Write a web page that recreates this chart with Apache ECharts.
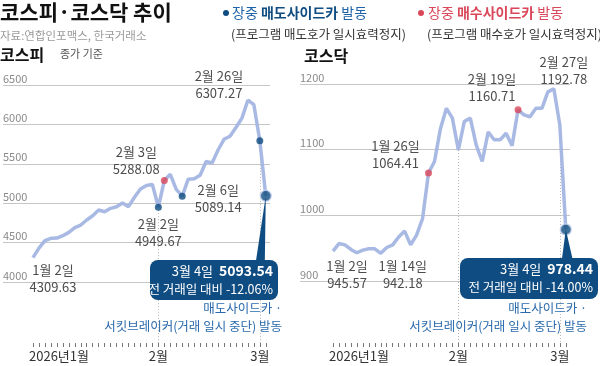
<!DOCTYPE html>
<html><head><meta charset="utf-8">
<script src="https://cdn.jsdelivr.net/npm/echarts@6/dist/echarts.min.js"></script>
<style>html,body{margin:0;padding:0;background:#fff}#c{width:600px;height:366px}</style>
</head><body><div id="c"></div>
<script>
// ---- data ----
const dates = ['01-02','01-05','01-06','01-07','01-08','01-09','01-12','01-13','01-14','01-15','01-16','01-19','01-20','01-21','01-22','01-23','01-26','01-27','01-28','01-29','01-30',
  '02-02','02-03','02-04','02-05','02-06','02-09','02-10','02-11','02-12','02-13','02-19','02-20','02-23','02-24','02-25','02-26','02-27','03-03','03-04'];
const kospi = [4309.63,4430,4525,4554,4558,4588,4630,4690,4723,4787,4841,4914,4892,4935,4955,5003,4956,5075,5180,5225,5238,
  4949.67,5288.08,5367,5175,5089.14,5305,5310,5355,5530,5510,5675,5811,5850,5960,6080,6307.27,6250,5792,5093.54];
const kosdaq = [945.57,957,955,948,943,947,949,949,942.18,951,955,967,976,955,970,995,1064.41,1082,1132,1163,1148,
  1099.5,1143,1148,1107,1082,1127,1115,1115,1125,1106,1160.71,1153,1150,1163,1163,1188,1192.78,1137.7,978.44];
const tickLabelIdx = [0,21,38];
const tickLabelText = ['2026년1월','2월','3월'];
const monthStartIdx = [21,38];
const kospiSell = [21,25,38], kospiBuy = [22], kospiBreaker = [39];
const kosdaqSell = [], kosdaqBuy = [16,31], kosdaqBreaker = [39];
const kospiTicks = {min:4000, max:6500, step:500};
const kosdaqTicks = {min:900, max:1200, step:100};
const kospiNotes = [[0,'1월 2일','4309.63'],[21,'2월 2일','4949.67'],[22,'2월 3일','5288.08'],[25,'2월 6일','5089.14'],[36,'2월 26일','6307.27']];
const kosdaqNotes = [[0,'1월 2일','945.57'],[8,'1월 14일','942.18'],[16,'1월 26일','1064.41'],[31,'2월 19일','1160.71'],[37,'2월 27일','1192.78']];
const kospiBox = ['3월 4일','5093.54','전 거래일 대비 -12.06%'];
const kosdaqBox = ['3월 4일','978.44','전 거래일 대비 -14.00%'];

// ---- layout ----
const F = "'Noto Sans CJK KR', 'Noto Sans', sans-serif";
const NAVY = '#0f4c81', RED = '#d9475a', LINE = '#a3b5e3';
const gridH = 197, lineGridH = 258;
const kospiLo = kospiTicks.max - (kospiTicks.max-kospiTicks.min)*lineGridH/gridH;
const kosdaqLo = kosdaqTicks.max - (kosdaqTicks.max-kosdaqTicks.min)*(lineGridH+1)/gridH;
const chart = echarts.init(document.getElementById('c'), null, {renderer:'canvas'});

function yGridAxis(g, t){
  return {gridIndex:g, type:'value', min:t.min, max:t.max, interval:t.step,
    axisLine:{show:false}, axisTick:{show:false},
    splitLine:{lineStyle:{color:'#c6c6c6', width:1}},
    axisLabel:{inside:true, margin:0, verticalAlign:'bottom', align:'left', color:'#8a8a8a', fontSize:11, fontFamily:F, padding:[0,0,1,0],
      formatter:(v)=>String(v)}};
}
function xLineAxis(g){
  return {gridIndex:g, type:'category', data:dates, boundaryGap:false,
    axisLine:{show:false},
    axisTick:{show:true, interval:0, length:4, lineStyle:{color:'#777'}},
    splitLine:{show:false},
    axisLabel:{interval:(i)=>tickLabelIdx.includes(i), margin:7, color:'#333', fontSize:13, fontFamily:F,
      formatter:(v,i)=>{const k=tickLabelIdx.indexOf(i); if(k<0) return ''; return k===0?'{a|'+tickLabelText[k]+'}':tickLabelText[k];},
      rich:{a:{fontSize:13, color:'#333', fontFamily:F, padding:[0,0,0,52]}}}};
}
function lineSeries(ax, vals, lo){
  return {type:'line', xAxisIndex:ax, yAxisIndex:ax, data:vals, symbol:'none', z:3,
    lineStyle:{color:LINE, width:3.5, opacity:0.95}, silent:true,
    markLine:{silent:true, symbol:'none', label:{show:false}, z:1,
      lineStyle:{color:'#b5b5b5', type:[1,2], width:1},
      data: monthStartIdx.map(i=>[{coord:[dates[i], vals[i]]},{coord:[dates[i], lo]}])}};
}
function dots(ax, vals, idx, color, size, border){
  return {type:'scatter', xAxisIndex:ax, yAxisIndex:ax, z:5, silent:true, symbolSize:size,
    itemStyle: border ? {color, borderColor:'#c9d5ef', borderWidth:1.5} : {color},
    data: idx.map(i=>[dates[i], vals[i]])};
}

chart.setOption({
  animation:false,
  textStyle:{fontFamily:F},
  grid:[
    {left:0, top:85, width:270, height:gridH},
    {left:33, top:85, width:232.8, height:lineGridH},
    {left:300, top:84, width:270, height:gridH},
    {left:333, top:84, width:232.8, height:lineGridH+1}
  ],
  xAxis:[
    {gridIndex:0, type:'value', show:false, min:0, max:1},
    xLineAxis(1),
    {gridIndex:2, type:'value', show:false, min:0, max:1},
    xLineAxis(3)
  ],
  yAxis:[
    yGridAxis(0, kospiTicks),
    {gridIndex:1, type:'value', min:kospiLo, max:kospiTicks.max, show:false, splitLine:{show:false}},
    yGridAxis(2, kosdaqTicks),
    {gridIndex:3, type:'value', min:kosdaqLo, max:kosdaqTicks.max, show:false, splitLine:{show:false}}
  ],
  series:[
    lineSeries(1, kospi, kospiLo),
    dots(1, kospi, kospiSell, NAVY, 7),
    dots(1, kospi, kospiBuy, RED, 7),
    dots(1, kospi, kospiBreaker, NAVY, 11, true),
    lineSeries(3, kosdaq, kosdaqLo),
    dots(3, kosdaq, kosdaqSell, NAVY, 7),
    dots(3, kosdaq, kosdaqBuy, RED, 7),
    dots(3, kosdaq, kosdaqBreaker, NAVY, 11, true)
  ]
});

// ---- annotations positioned from the library's scales ----
function px(g, vals, i){ return chart.convertToPixel({gridIndex:g}, [dates[i], vals[i]]); }
const G = [];
function txt(x,y,text,o){ G.push({type:'text', silent:true, z:20, style:Object.assign({x,y,text,fontFamily:F,fontSize:13,fill:'#555',align:'center',verticalAlign:'middle'},o||{})}); }

// header
txt(0,2,'코스피·코스닥 추이',{align:'left',verticalAlign:'top',fontSize:21,fontWeight:'bold',fill:'#111'});
txt(0,36,'자료:연합인포맥스, 한국거래소',{align:'left',fontSize:11.5,fill:'#9a9a9a'});
G.push({type:'circle', silent:true, shape:{cx:226, cy:13, r:3}, style:{fill:NAVY}});
txt(232,13,'{n|장중 }{b|매도사이드카}{n| 발동}',{align:'left',rich:{n:{fontSize:14,fill:'#1f63a8',fontFamily:F},b:{fontSize:14,fontWeight:'bold',fill:NAVY,fontFamily:F}}});
txt(231,34,'(프로그램 매도호가 일시효력정지)',{align:'left',fontSize:12.5,fill:'#333'});
G.push({type:'circle', silent:true, shape:{cx:421, cy:13, r:3}, style:{fill:RED}});
txt(428,13,'{n|장중 }{b|매수사이드카}{n| 발동}',{align:'left',rich:{n:{fontSize:14,fill:RED,fontFamily:F},b:{fontSize:14,fontWeight:'bold',fill:RED,fontFamily:F}}});
txt(427,34,'(프로그램 매수호가 일시효력정지)',{align:'left',fontSize:12.5,fill:'#333'});
txt(0,55,'코스피',{align:'left',fontSize:16,fontWeight:'bold',fill:'#111'});
txt(60,54,'종가 기준',{align:'left',fontSize:11,fill:'#555'});
txt(304,56,'코스닥',{align:'left',fontSize:16,fontWeight:'bold',fill:'#111'});

// point notes: [dx, anchor('top'|'bottom'), dy]
const kospiOff = [[20,'top',4],[0,'top',8],[-28,'bottom',-3],[36,'top',-15],[-29,'bottom',1]];
const kosdaqOff = [[14,'top',6],[22,'top',4],[-33,'bottom',-1],[-26,'bottom',-5],[10,'bottom',-1]];
function notes(g, vals, list, off){
  list.forEach((n,k)=>{
    const p = px(g, vals, n[0]); const o = off[k];
    txt(p[0]+o[0], p[1]+o[2], n[1]+'\n'+n[2], {verticalAlign:o[1], lineHeight:17, fontSize:13, fill:'#4d4d4d'});
  });
}
notes(1, kospi, kospiNotes, kospiOff);
notes(3, kosdaq, kosdaqNotes, kosdaqOff);

// callout boxes
function callout(g, vals, box, bx, by, bw, bh, wedge, descRight){
  const p = px(g, vals, vals.length-1);
  G.push({type:'polygon', silent:true, z:9, shape:{points:[[p[0],p[1]],[p[0]+wedge[0],by+2],[p[0]+wedge[1],by+2]]}, style:{fill:NAVY}});
  G.push({type:'rect', silent:true, z:10, shape:{x:bx,y:by,width:bw,height:bh,r:8}, style:{fill:NAVY}});
  const r = bx+bw-5;
  txt(r, by+11, '{n|'+box[0]+'  }{b|'+box[1]+'}', {align:'right', z:21, rich:{n:{fontSize:13,fill:'#fff',fontFamily:F},b:{fontSize:14,fontWeight:'bold',fill:'#fff',fontFamily:F}}});
  txt(r, by+29, box[2], {align:'right', fontSize:12.5, fill:'#fff'});
  txt(descRight, 308, '매도사이드카 ·', {align:'right', fontSize:12.5, fill:'#2a6aad'});
  txt(descRight, 326, '서킷브레이커(거래 일시 중단) 발동', {align:'right', fontSize:12.5, fill:'#2a6aad'});
}
callout(1, kospi, kospiBox, 150, 260, 128, 40, [-10,-1], 282);
callout(3, kosdaq, kosdaqBox, 460, 258, 138, 41, [-4,7], 587);

chart.setOption({graphic:G});
</script></body></html>
